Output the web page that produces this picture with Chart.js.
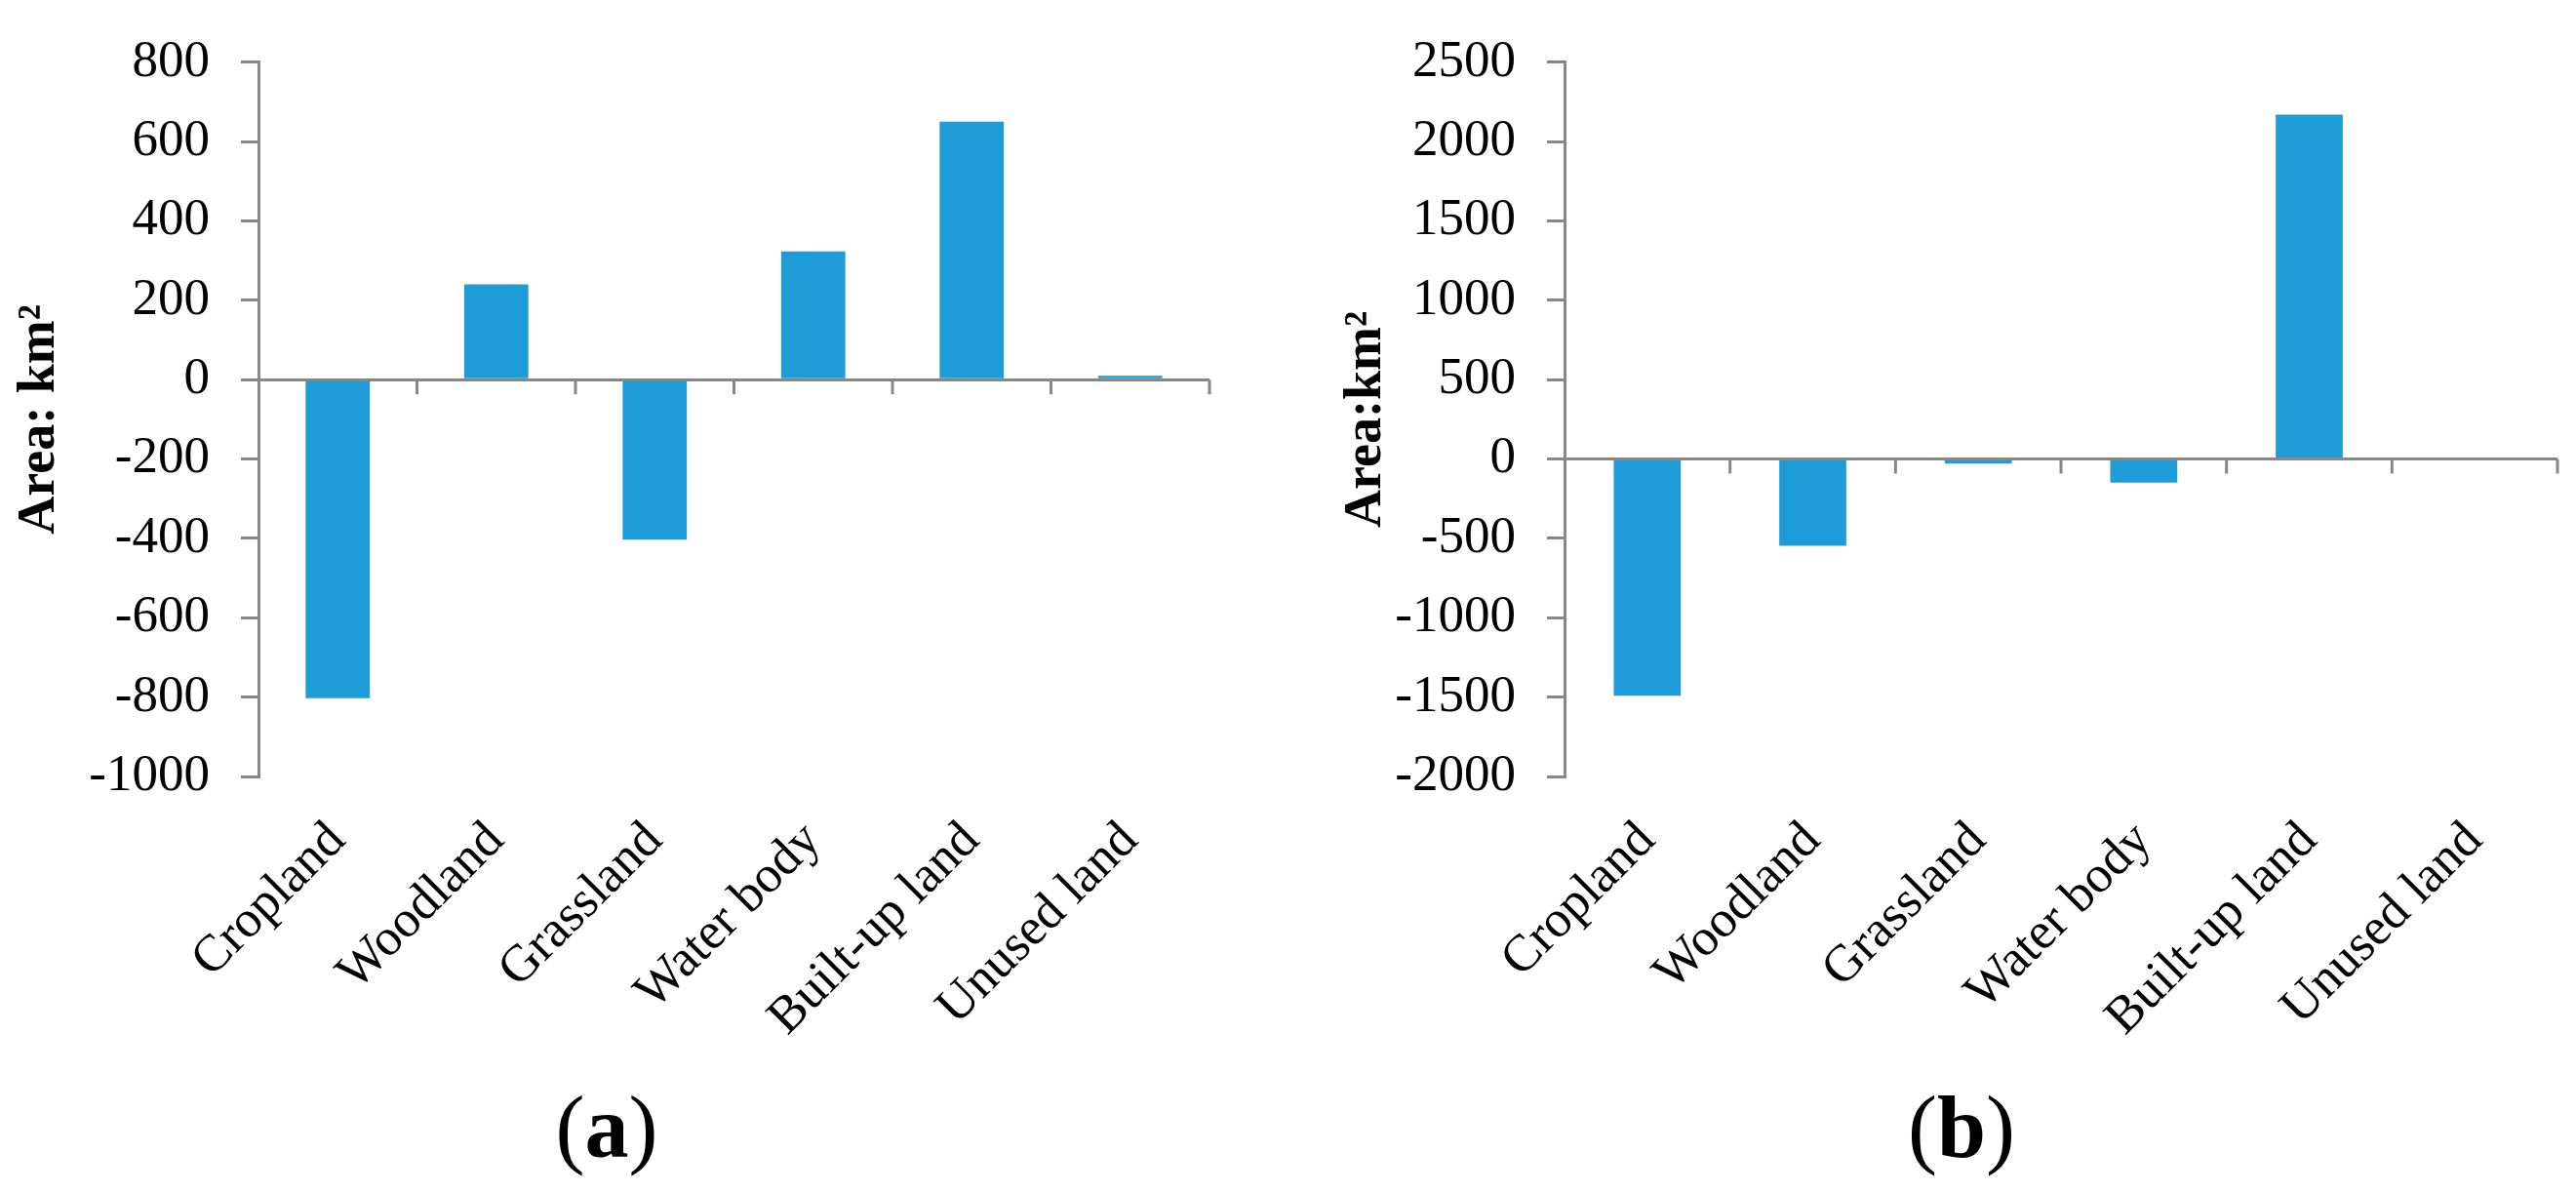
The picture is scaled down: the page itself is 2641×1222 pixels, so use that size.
<!DOCTYPE html>
<html>
<head>
<meta charset="utf-8">
<script src="https://cdn.jsdelivr.net/npm/chart.js@4.4.1/dist/chart.umd.min.js"></script>
<style>
    html, body { margin: 0; padding: 0; background: #fff; }
    body { width: 2641px; height: 1222px; position: relative; overflow: hidden; font-family: 'Liberation Serif', 'Times New Roman', serif; }
    canvas { position: absolute; top: 0; }
    #chartA { left: 0; width: 1320px; height: 1222px; }
    #chartB { left: 1360px; width: 1281px; height: 1222px; }
    .panel { position: absolute; top: 1111px; width: 300px; text-align: center; font-size: 90px; line-height: 90px; color: #000; }
</style>
</head>
<body>
<canvas id="chartA" width="1320" height="1222"></canvas>
<canvas id="chartB" width="1281" height="1222"></canvas>
<div class="panel" style="left:472px">(<b>a</b>)</div>
<div class="panel" style="left:1861px">(<b>b</b>)</div>

<script>
// datos
const categories = ['Cropland', 'Woodland', 'Grassland', 'Water body', 'Built-up land', 'Unused land'];
const changeA = [-803, 240, -403, 323, 650, 10];
const changeB = [-1492, -546, -28, -148, 2170, 0];
const axisA = [-1000, 800, 200];   // min, max, paso
const axisB = [-2000, 2500, 500];
const titleA = 'Area: km²';
const titleB = 'Area:km²';

const gray = '#878787';
const barColor = '#1E9CD8';
Chart.defaults.font.family = "'Liberation Serif', 'Times New Roman', serif";
Chart.defaults.color = '#000';

// marcas pequeñas del eje de categorías, colgando de la línea del cero
const zeroTicks = {
    id: 'zeroTicks',
    afterDraw(chart) {
        const x = chart.scales.x, y = chart.scales.y;
        const y0 = y.getPixelForValue(0);
        const ctx = chart.ctx;
        ctx.save();
        ctx.strokeStyle = gray;
        ctx.lineWidth = 3;
        ctx.beginPath();
        for (let i = 0; i < categories.length; i++) {
            const px = x.getPixelForValue(i + 0.5);
            ctx.moveTo(px, y0);
            ctx.lineTo(px, y0 + 15);
        }
        ctx.stroke();
        ctx.restore();
    }
};

const makeChart = (id, values, axis, title, yWidth, top, right) => {
    new Chart(document.getElementById(id), {
        type: 'bar',
        data: {
            labels: categories,
            datasets: [{
                data: values,
                backgroundColor: barColor,
                borderWidth: 0,
                categoryPercentage: 1,
                barPercentage: 0.405
            }]
        },
        options: {
            responsive: false,
            animation: false,
            devicePixelRatio: 1,
            layout: { padding: { top: top, right: right, left: 0, bottom: 0 } },
            plugins: { legend: { display: false }, tooltip: { enabled: false } },
            scales: {
                x: {
                    grid: { display: false, drawTicks: false },
                    border: { display: false },
                    ticks: {
                        autoSkip: false,
                        maxRotation: 45,
                        minRotation: 45,
                        padding: 35,
                        font: { size: 53 }
                    },
                    afterFit: s => { s.height = 1222 - 796; }
                },
                y: {
                    min: axis[0],
                    max: axis[1],
                    z: 1,
                    ticks: {
                        stepSize: axis[2],
                        padding: 32,
                        font: { size: 53 },
                        callback: v => String(v)
                    },
                    grid: {
                        color: c => (c.tick && c.tick.value === 0 ? gray : 'rgba(0,0,0,0)'),
                        tickColor: gray,
                        lineWidth: 3,
                        tickLength: 18
                    },
                    border: { display: true, color: gray, width: 3 },
                    title: {
                        display: true,
                        text: title,
                        font: { size: 54, weight: 'bold' },
                        padding: { top: 9, bottom: 0 }
                    },
                    afterFit: s => { s.width = yWidth; }
                }
            }
        },
        plugins: [zeroTicks]
    });
};

makeChart('chartA', changeA, axisA, titleA, 265, 58, 80);
makeChart('chartB', changeB, axisB, titleB, 244, 55, 19);
</script>
</body>
</html>
